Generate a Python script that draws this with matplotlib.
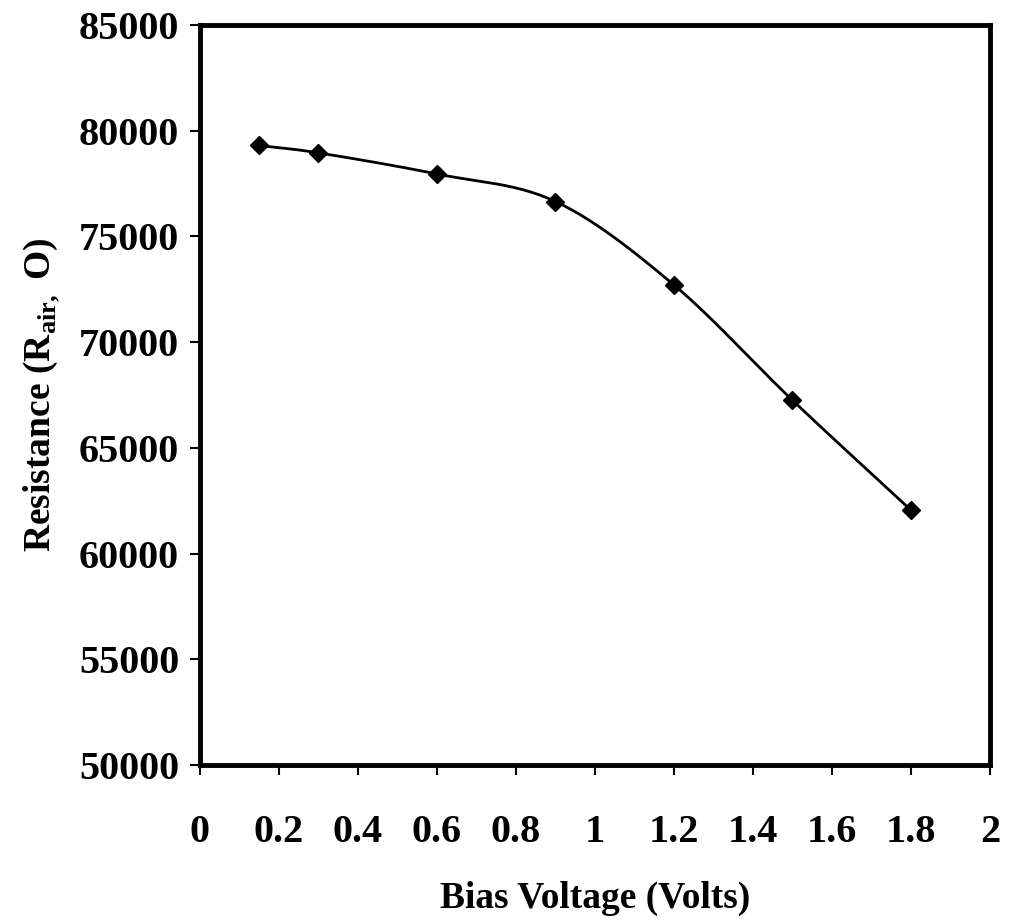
import numpy as np
import matplotlib
matplotlib.use("Agg")
import matplotlib.pyplot as plt

voltage = [0.15, 0.3, 0.6, 0.9, 1.2, 1.5, 1.8]
resistance = [79300, 78950, 77950, 76650, 72700, 67250, 62050]

plt.rcParams['font.family'] = ['Liberation Serif', 'DejaVu Serif']
plt.rcParams['mathtext.fontset'] = 'custom'
plt.rcParams['mathtext.rm'] = 'Liberation Serif:bold'
plt.rcParams['mathtext.bf'] = 'Liberation Serif:bold'
fig = plt.figure(figsize=(10.24, 9.21), dpi=100)
ax = fig.add_axes([0.1953, 0.1694, 0.7715, 0.8035])

x = np.array(voltage); y = np.array(resistance, dtype=float)
px = np.concatenate([[2*x[0]-x[1]], x, [2*x[-1]-x[-2]]])
py = np.concatenate([[2*y[0]-y[1]], y, [2*y[-1]-y[-2]]])
sx, sy = [], []
t = np.linspace(0, 1, 30)
for i in range(1, len(px)-2):
    for P, S in ((px, sx), (py, sy)):
        p0, p1, p2, p3 = P[i-1], P[i], P[i+1], P[i+2]
        S.extend(0.5*((2*p1) + (-p0+p2)*t + (2*p0-5*p1+4*p2-p3)*t**2 + (-p0+3*p1-3*p2+p3)*t**3))
ax.plot(sx, sy, color='black', lw=2)
ax.plot(x, y, 'D', color='black', ms=9)

ax.set_xlim(0, 2)
ax.set_ylim(50000, 85000)
ax.set_xticks(np.arange(0, 2.01, 0.2))
ax.set_xticklabels(['0', '0.2', '0.4', '0.6', '0.8', '1', '1.2', '1.4', '1.6', '1.8', '2'])
ax.set_yticks(np.arange(50000, 85001, 5000))
for s in ax.spines.values():
    s.set_linewidth(3.5)
ax.tick_params(axis='both', labelsize=29, width=1.5, length=7, direction='out')
for lbl in ax.get_xticklabels() + ax.get_yticklabels():
    lbl.set_fontweight('bold')
ax.tick_params(axis='x', pad=28)
ax.tick_params(axis='y', pad=8)
ax.set_xlabel('Bias Voltage (Volts)', fontsize=27, fontweight='bold', labelpad=22)
ax.set_ylabel(r'Resistance (R$_{\mathrm{air,}}$ O)', fontsize=27, fontweight='bold', labelpad=12)
fig.savefig('out.png', dpi=100)
